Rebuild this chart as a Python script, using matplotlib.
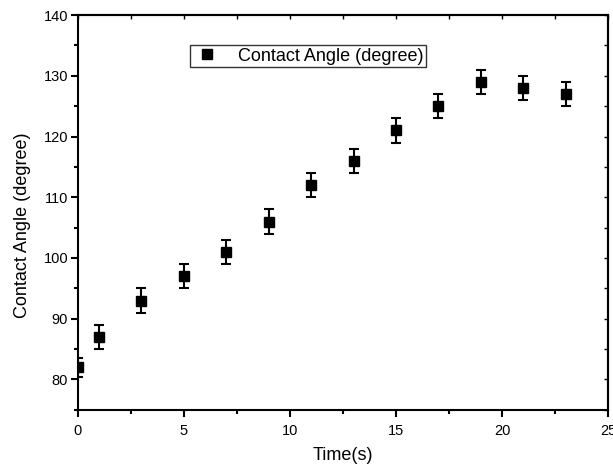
import matplotlib.pyplot as plt
from matplotlib.lines import Line2D
from matplotlib.ticker import MultipleLocator

plt.rcParams['font.family'] = ['Liberation Sans', 'DejaVu Sans']

# measured contact angle over time
time_s = [0, 1, 3, 5, 7, 9, 11, 13, 15, 17, 19, 21, 23]
angle = [82, 87, 93, 97, 101, 106, 112, 116, 121, 125, 129, 128, 127]
angle_err = [1.6, 2, 2, 2, 2, 2, 2, 2, 2, 2, 2, 2, 2]
series_name = 'Contact Angle (degree)'

fig = plt.figure(figsize=(6.13, 4.70), dpi=100)
ax = fig.add_axes([0.127, 0.128, 0.865, 0.840])

ax.errorbar(time_s, angle, yerr=angle_err, fmt='s', color='black',
            markersize=6.5, capsize=3.5, elinewidth=1.5, capthick=1.5)

ax.set_xlim(0, 25)
ax.set_ylim(75, 140)
ax.xaxis.set_major_locator(MultipleLocator(5))
ax.xaxis.set_minor_locator(MultipleLocator(2.5))
ax.yaxis.set_major_locator(MultipleLocator(10))
ax.yaxis.set_minor_locator(MultipleLocator(5))

for s in ax.spines.values():
    s.set_linewidth(1.5)
ax.tick_params(which='major', direction='out', length=5, width=1.5,
               labelsize=10.5)
ax.tick_params(axis='x', which='major', pad=5)
ax.tick_params(axis='y', which='major', pad=2)
ax.tick_params(which='minor', direction='out', length=3, width=1.5)

# inward ticks on top and right
top = ax.secondary_xaxis('top')
top.xaxis.set_major_locator(MultipleLocator(2.5))
top.tick_params(direction='in', length=3, width=1, labeltop=False)
top.spines['top'].set_linewidth(1.5)
right = ax.secondary_yaxis('right')
right.yaxis.set_major_locator(MultipleLocator(5))
right.tick_params(direction='in', length=3, width=1, labelright=False)
right.spines['right'].set_linewidth(1.5)

ax.set_xlabel('Time(s)', fontsize=13, labelpad=7)
ax.set_ylabel(series_name, fontsize=13)
ax.yaxis.set_label_coords(-0.088, 0.468)

handle = Line2D([], [], marker='s', ls='none', color='black', markersize=6.5)
leg = ax.legend([handle], [series_name], loc='center',
                bbox_to_anchor=(0.434, 0.896), fontsize=13,
                frameon=True, fancybox=False, edgecolor='black',
                handletextpad=0.9, borderpad=0.15, handlelength=1.6,
                borderaxespad=0)
leg.get_frame().set_linewidth(1.0)

fig.savefig('out.png', dpi=100)
